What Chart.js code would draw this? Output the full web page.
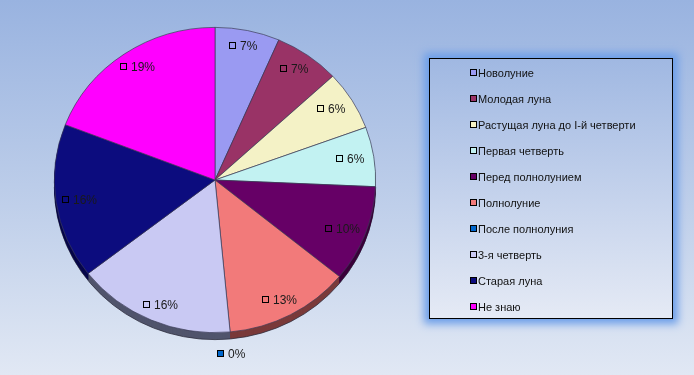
<!DOCTYPE html>
<html><head><meta charset="utf-8">
<script src="https://cdn.jsdelivr.net/npm/chart.js@4/dist/chart.umd.min.js"></script>
<style>
html,body{margin:0;padding:0;}
body{width:694px;height:375px;overflow:hidden;background:linear-gradient(to bottom,#99b3e0 0%,#bfcfea 55%,#e1e8f4 100%);position:relative;font-family:"Liberation Sans",Arial,sans-serif;}
#wrap{position:absolute;left:0;top:0;width:430px;height:375px;}
#legend{position:absolute;left:429px;top:58px;width:242px;height:259px;border:1px solid #000;box-shadow:0 0 8px 5px #6d9fe9;background:linear-gradient(to bottom,#a0b8e2,#e5eaf5);}
.item{position:absolute;left:40px;font-size:11px;color:#111;white-space:nowrap;line-height:12px;}
.sw{display:inline-block;width:5px;height:5px;border:1px solid #000;margin-right:1px;vertical-align:1px;}
</style>
</head><body>
<div id="wrap"><canvas id="c"></canvas></div>
<div id="legend"></div>
<script>
const categories = ["Новолуние","Молодая луна","Растущая луна до I-й  четверти","Первая четверть","Перед полнолунием","Полнолуние","После полнолуния","3-я четверть","Старая луна","Не знаю"];
// shares (%); labels show rounded values
const shareValues = [6.5,6.6,6.3,6.3,10.2,12.6,0,16.0,16.4,19.1];
const labelValues = [7,7,6,6,10,13,0,16,16,19];
const sliceColors = ["#9a9af2","#993366","#f4f2c6","#c2f2f2","#660066","#f27a7a","#0066cc","#c9c9f3","#0c0c7e","#ff00ff"];
const sideColors = ["#5a5a90","#5a1e3c","#8e8c70","#708c8c","#3a003a","#7a3a3a","#003a75","#50546c","#06064a","#900090"];

const depth = 7;
const tilt = 0.95;
function ellipse(ctx,cx,cy){ctx.translate(cx,cy);ctx.scale(1,tilt);ctx.translate(-cx,-cy);}
const pie3d = {
  id:'pie3d',
  beforeDatasetsDraw(chart){
    const ctx = chart.ctx;
    const meta = chart.getDatasetMeta(0);
    const a0 = meta.data[0];
    const cx=a0.x, cy=a0.y;
    for(let d=depth; d>=1; d--){
      ctx.save();
      ctx.translate(0,d);
      ellipse(ctx,cx,cy);
      meta.data.forEach((arc,i)=>{
        const p = arc.getProps(['x','y','startAngle','endAngle','outerRadius'],true);
        if(p.endAngle-p.startAngle<=0) return;
        ctx.beginPath();
        ctx.moveTo(p.x,p.y);
        ctx.arc(p.x,p.y,p.outerRadius,p.startAngle,p.endAngle);
        ctx.closePath();
        ctx.fillStyle = sideColors[i];
        ctx.fill();
      });
      if(d===depth){
        ctx.beginPath();
        ctx.arc(cx,cy,a0.outerRadius,0,Math.PI);
        ctx.strokeStyle='#2a2a3a';ctx.lineWidth=0.8;ctx.stroke();
      }
      ctx.restore();
    }
    ctx.save();
    ellipse(ctx,cx,cy);
  },
  afterDatasetsDraw(chart){
    const ctx = chart.ctx;
    ctx.restore();
    const meta = chart.getDatasetMeta(0);
    ctx.save();
    ctx.font = '12px "Liberation Sans", Arial, sans-serif';
    ctx.textBaseline='middle';
    meta.data.forEach((arc,i)=>{
      const p = arc.getProps(['x','y','startAngle','endAngle','outerRadius'],true);
      const mid = (p.startAngle+p.endAngle)/2;
      const zero = labelValues[i]===0;
      const r = zero ? p.outerRadius+14 : p.outerRadius*0.85;
      const cx = p.x + Math.cos(mid)*r;
      const cy = p.y + Math.sin(mid)*r;
      const txt = labelValues[i]+'%';
      const tw = ctx.measureText(txt).width;
      const total = 7+4+tw;
      const left = Math.round(cx-total/2);
      const yy = Math.round(cy);
      ctx.fillStyle = sliceColors[i];
      ctx.fillRect(left+0.5,yy-3.5,6,6);
      ctx.strokeStyle='#000';ctx.lineWidth=1;
      ctx.strokeRect(left+0.5,yy-3.5,6,6);
      ctx.fillStyle='#1a1a1a';
      ctx.textAlign='left';
      ctx.fillText(txt,left+11,yy+0.5);
    });
    ctx.restore();
  }
};

const chart = new Chart(document.getElementById('c'),{
  type:'pie',
  data:{labels:categories,datasets:[{data:shareValues,backgroundColor:sliceColors,borderColor:'#3a3a55',borderWidth:0.7}]},
  options:{
    responsive:true,maintainAspectRatio:false,animation:false,
    layout:{padding:{top:19,bottom:34,left:0,right:0}},
    plugins:{legend:{display:false},tooltip:{enabled:false}}
  },
  plugins:[pie3d]
});

const leg = document.getElementById('legend');
categories.forEach((c,i)=>{
  const d=document.createElement('div');
  d.className='item';
  d.style.top=(14+26*i-6)+'px';
  d.innerHTML='<span class="sw" style="background:'+sliceColors[i]+'"></span>'+c;
  leg.appendChild(d);
});
</script>
</body></html>
